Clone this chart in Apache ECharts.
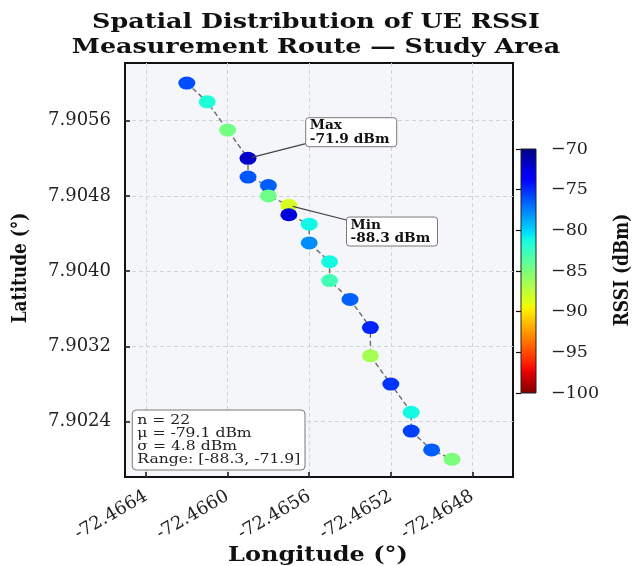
<!DOCTYPE html>
<html>
<head>
<meta charset="utf-8">
<script src="https://cdn.jsdelivr.net/npm/echarts@6/dist/echarts.min.js"></script>
<style>
  html, body { margin: 0; padding: 0; background: #ffffff; }
  #chart { width: 634px; height: 566px; }
</style>
</head>
<body>
<div id="chart"></div>
<script>
// Measurement route: one entry per recorded sample
const lon = [-72.4662, -72.4661, -72.4660, -72.4659, -72.4659, -72.4658, -72.4658,
             -72.4657, -72.4657, -72.4656, -72.4656, -72.4655, -72.4655, -72.4654,
             -72.4653, -72.4653, -72.4652, -72.4651, -72.4651, -72.4650, -72.4649];
const lat = [7.9060, 7.9058, 7.9055, 7.9052, 7.9050, 7.90491, 7.9048,
             7.9047, 7.9046, 7.9045, 7.9043, 7.9041, 7.9039, 7.9037,
             7.9034, 7.9031, 7.9028, 7.9025, 7.9023, 7.9021, 7.9020];
const rssi = [-76.0, -81.6, -84.7, -71.9, -76.3, -76.5, -84.5,
              -88.3, -72.4, -81.1, -77.9, -81.2, -82.9, -76.6,
              -74.8, -86.5, -75.3, -81.2, -75.6, -76.5, -85.0];

// Axis ticks
const lonTicks = [-72.4664, -72.4660, -72.4656, -72.4652, -72.4648];
const latTicks = [7.9024, 7.9032, 7.9040, 7.9048, 7.9056];
const rssiTicks = [-100, -95, -90, -85, -80, -75, -70];

// Texts
const titleText = 'Spatial Distribution of UE RSSI\nMeasurement Route \u2014 Study Area';
const xName = 'Longitude (\u00b0)';
const yName = 'Latitude (\u00b0)';
const cbName = 'RSSI (dBm)';
const statsLines = ['n = 22', '\u03bc = -79.1 dBm', '\u03c3 = 4.8 dBm', 'Range: [-88.3, -71.9]'];

// Visible map window
const lonMin = -72.466503, lonMax = -72.464601;
const latMin = 7.901812, latMax = 7.906213;
const cMin = rssiTicks[0], cMax = rssiTicks[rssiTicks.length - 1];

// Jet colormap (piecewise linear channels)
const JET_R = [[0, 0], [0.35, 0], [0.66, 1], [0.89, 1], [1, 0.5]];
const JET_G = [[0, 0], [0.125, 0], [0.375, 1], [0.64, 1], [0.91, 0], [1, 0]];
const JET_B = [[0, 0.5], [0.11, 1], [0.34, 1], [0.65, 0], [1, 0]];
function chan(stops, u) {
  for (let i = 1; i < stops.length; i++) {
    if (u <= stops[i][0]) {
      const a = stops[i - 1], b = stops[i];
      return a[1] + (b[1] - a[1]) * (u - a[0]) / (b[0] - a[0]);
    }
  }
  return stops[stops.length - 1][1];
}
function jet(u) {
  u = Math.max(0, Math.min(1, u));
  const r = Math.round(chan(JET_R, u) * 255);
  const g = Math.round(chan(JET_G, u) * 255);
  const b = Math.round(chan(JET_B, u) * 255);
  return 'rgb(' + r + ',' + g + ',' + b + ')';
}
// reversed: strongest signal (cMax) is dark blue, weakest (cMin) dark red
function rssiColor(v) { return jet((cMax - v) / (cMax - cMin)); }

const N_STEPS = 60;
const mapColors = [];
const barStops = [];
for (let k = 0; k <= N_STEPS; k++) {
  const v = cMin + (cMax - cMin) * k / N_STEPS;
  mapColors.push(rssiColor(v));
  barStops.push({ offset: k / N_STEPS, color: jet(k / N_STEPS) });
}

const FONT = '"DejaVu Serif", serif';
const points = lon.map((x, i) => [x, lat[i], rssi[i]]);

const chart = echarts.init(document.getElementById('chart'), null, { renderer: 'canvas' });

const gridMain = { left: 125, top: 63, width: 388, height: 414 };

chart.setOption({
  animation: false,
  backgroundColor: '#ffffff',
  grid: [
    Object.assign({
      show: true, backgroundColor: '#f5f6f9', borderColor: '#111', borderWidth: 2
    }, gridMain),
    {
      left: 521, top: 149, width: 15, height: 244, show: true,
      backgroundColor: new echarts.graphic.LinearGradient(0, 0, 0, 1, barStops),
      borderColor: '#222', borderWidth: 1
    }
  ],
  xAxis: [
    {
      type: 'value', gridIndex: 0, min: lonMin, max: lonMax,
      axisLine: { show: false },
      axisTick: { show: true, inside: true, length: 5, customValues: lonTicks,
                  lineStyle: { color: '#111', width: 1.5 } },
      axisLabel: { customValues: lonTicks, rotate: 30, margin: 18,
                   formatter: v => Number(v).toFixed(4),
                   fontFamily: FONT, fontSize: 18, color: '#222' },
      splitLine: { show: true, lineStyle: { color: '#d2d2d2', type: [4, 3], width: 1 } }
    },
    { type: 'value', gridIndex: 1, min: 0, max: 1, show: false }
  ],
  yAxis: [
    {
      type: 'value', gridIndex: 0, min: latMin, max: latMax,
      axisLine: { show: false },
      axisTick: { show: true, inside: true, length: 5, customValues: latTicks,
                  lineStyle: { color: '#111', width: 1.5 } },
      axisLabel: { customValues: latTicks, margin: 14,
                   formatter: v => Number(v).toFixed(4),
                   fontFamily: FONT, fontSize: 18, color: '#222' },
      splitLine: { show: true, lineStyle: { color: '#d2d2d2', type: [4, 3], width: 1 } }
    },
    {
      type: 'value', gridIndex: 1, position: 'right', min: cMin, max: cMax, interval: 5,
      axisLine: { show: false },
      axisTick: { show: true, inside: true, length: 5, lineStyle: { color: '#111', width: 1.2 } },
      axisLabel: { margin: 15, formatter: v => String(v).replace('-', '\u2212'),
                   fontFamily: FONT, fontSize: 17.5, color: '#222' },
      splitLine: { show: false }
    }
  ],
  visualMap: {
    type: 'continuous', show: false, dimension: 2, seriesIndex: 1,
    min: cMin, max: cMax, inRange: { color: mapColors }
  },
  series: [
    {
      type: 'line', xAxisIndex: 0, yAxisIndex: 0, silent: true, z: 1,
      data: points.map(p => [p[0], p[1]]),
      symbol: 'none',
      lineStyle: { color: '#6b6b6b', width: 1.4, type: [5, 3] }
    },
    {
      type: 'scatter', xAxisIndex: 0, yAxisIndex: 0, z: 3,
      data: points, symbol: 'circle', symbolSize: [17, 13],
      itemStyle: { opacity: 1 }
    }
  ]
});

// Overlay texts, annotation call-outs and statistics box
function buildOverlay() {
  const g = [];
  g.push({
    type: 'text', x: 316, y: 10.5, scaleX: 1.21,
    style: { text: titleText, font: 'bold 21px ' + FONT, fill: '#111',
             align: 'center', verticalAlign: 'top', lineHeight: 25 }
  });
  g.push({
    type: 'text', x: 318, y: 556, scaleX: 1.2,
    style: { text: xName, font: 'bold 20px ' + FONT, fill: '#111',
             align: 'center', verticalAlign: 'middle' }
  });
  g.push({
    type: 'text', x: 21, y: 268, rotation: Math.PI / 2, scaleY: 1.15,
    style: { text: yName, font: 'bold 17px ' + FONT, fill: '#111',
             align: 'center', verticalAlign: 'middle' }
  });
  g.push({
    type: 'text', x: 623, y: 270, rotation: Math.PI / 2, scaleY: 1.15,
    style: { text: cbName, font: 'bold 17px ' + FONT, fill: '#111',
             align: 'center', verticalAlign: 'middle' }
  });

  // call-outs for extreme readings
  let iMax = 0, iMin = 0;
  rssi.forEach((v, i) => { if (v > rssi[iMax]) iMax = i; if (v < rssi[iMin]) iMin = i; });
  const boxW = 91, boxH = 29;
  [[iMax, 'Max', -40.6], [iMin, 'Min', 11.7]].forEach(([idx, lbl, dy]) => {
    const p = chart.convertToPixel({ gridIndex: 0 }, [lon[idx], lat[idx]]);
    const bx = p[0] + 57.7, by = p[1] + dy;
    const cx = bx + boxW / 2, cy = by + boxH / 2;
    const t = (cx - bx) / (cx - p[0]);
    const sx = bx, sy = cy + t * (p[1] - cy);
    const dx = sx - p[0], dyy = sy - p[1];
    const len = Math.sqrt(dx * dx + dyy * dyy);
    const ex = p[0] + dx / len * 4, ey = p[1] + dyy / len * 4;
    g.push({
      type: 'line', z: 10, silent: true,
      shape: { x1: sx, y1: sy, x2: ex, y2: ey },
      style: { stroke: '#444', lineWidth: 1.2 }
    });
    g.push({
      type: 'rect', z: 11, silent: true,
      shape: { x: bx, y: by, width: boxW, height: boxH, r: 3 },
      style: { fill: '#ffffff', stroke: '#7a7a7a', lineWidth: 1 }
    });
    g.push({
      type: 'text', z: 12, silent: true, x: bx + 4, y: by + 1.5, scaleX: 1.1,
      style: { text: lbl + '\n' + rssi[idx].toFixed(1) + ' dBm', font: 'bold 12.5px ' + FONT,
               fill: '#111', align: 'left', verticalAlign: 'top', lineHeight: 13.5 }
    });
  });

  // summary statistics, lower-left corner of the map
  const sx0 = gridMain.left + 7.3, sy0 = gridMain.top + gridMain.height - 67;
  g.push({
    type: 'rect', z: 11, silent: true,
    shape: { x: sx0, y: sy0, width: 172.7, height: 60, r: 4 },
    style: { fill: 'rgba(255,255,255,0.92)', stroke: '#7a7a7a', lineWidth: 1 }
  });
  g.push({
    type: 'text', z: 12, silent: true, x: sx0 + 5, y: sy0 + 3.5, scaleX: 1.2,
    style: { text: statsLines.join('\n'), font: '13px ' + FONT, fill: '#222',
             align: 'left', verticalAlign: 'top', lineHeight: 13.3 }
  });
  return g;
}

chart.setOption({ graphic: buildOverlay() });
</script>
</body>
</html>
